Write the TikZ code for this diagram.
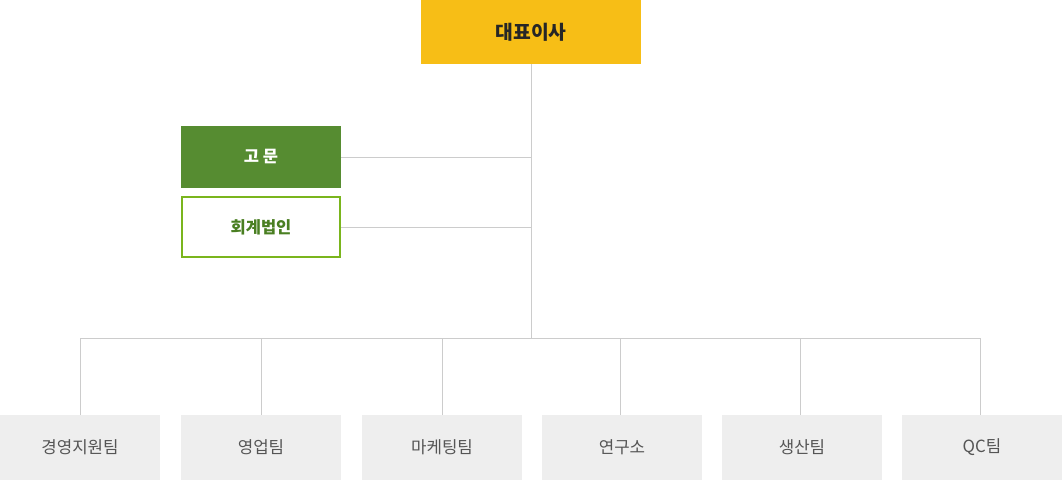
\documentclass[tikz,border=0pt]{standalone}
\usepackage{fontspec}
\setmainfont{Noto Sans CJK KR}
\usepackage{tikz}
\usetikzlibrary{calc}
\usetikzlibrary{positioning}

\definecolor{ceoyellow}{HTML}{F7BE16}
\definecolor{advgreen}{HTML}{568C31}
\definecolor{accgreen}{HTML}{7AB51D}
\definecolor{acctext}{HTML}{4A7F22}
\definecolor{teamgray}{HTML}{EEEEEE}
\definecolor{teamtext}{HTML}{555555}
\definecolor{linegray}{HTML}{CCCCCC}

\tikzset{
  ceobox/.style={fill=ceoyellow, minimum width=220pt, minimum height=64pt,
    inner sep=0pt, font=\fontsize{19.3}{21}\selectfont\bfseries, text=black!85},
  advbox/.style={fill=advgreen, minimum width=160pt, minimum height=62pt,
    inner sep=0pt, font=\fontsize{16.5}{19}\selectfont\bfseries, text=white},
  accbox/.style={draw=accgreen, line width=2pt, fill=white, minimum width=158pt,
    minimum height=60pt, inner sep=0pt,
    font=\fontsize{16.5}{19}\selectfont\bfseries, text=acctext},
  teambox/.style={fill=teamgray, minimum width=160pt, minimum height=65pt,
    inner sep=0pt, font=\fontsize{16.8}{19}\selectfont, text=teamtext},
  link/.style={draw=linegray, line width=1pt}
}

\begin{document}
\begin{tikzpicture}[x=1pt, y=-1pt]
    \useasboundingbox (0,0) rectangle (1062,480);
    % top
    \node[ceobox] (ceo) at (531,32) {대표이사};
    \node[advbox] (adv) at (261,157) {고 문};
    \node[accbox] (acc) at (261,227) {회계법인};
    % teams
    \node[teambox] (t1) at (80,447.5) {경영지원팀};
    \node[teambox] (t2) at (261,447.5) {영업팀};
    \node[teambox] (t3) at (442,447.5) {마케팅팀};
    \node[teambox] (t4) at (622,447.5) {연구소};
    \node[teambox] (t5) at (802,447.5) {생산팀};
    \node[teambox] (t6) at (982,447.5) {QC팀};
    % connectors
    \coordinate (hub) at (531,338);
    \coordinate (hubl) at (t1.north |- hub);
    \coordinate (hubr) at ($(t6.north |- hub)+(-2,0)$);
    \draw[link] (ceo.south) -- (hub);
    \draw[link] (adv.east) -- (adv.east -| ceo.south);
    \draw[link] (acc.east) -- (acc.east -| ceo.south);
    \draw[link] (hubl) -- (hubr);
    \foreach \t/\dx in {t1/0,t2/0,t3/0,t4/-2,t5/-2,t6/-2}
      \draw[link] ($(\t.north |- hub)+(\dx,0)$) -- ($(\t.north)+(\dx,0)$);
  \end{tikzpicture}
\end{document}
